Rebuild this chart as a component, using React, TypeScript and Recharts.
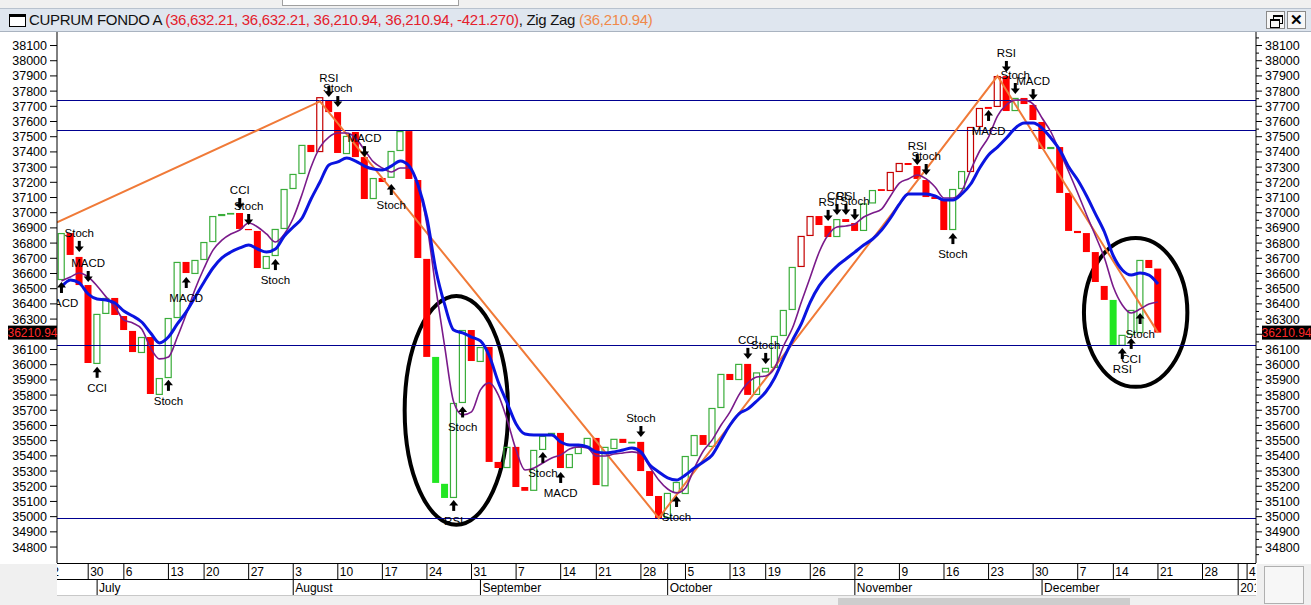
import React from "react";
import {
  Bar,
  ComposedChart,
  Line,
  ReferenceArea,
  ReferenceDot,
  ReferenceLine,
  XAxis,
  YAxis,
} from "recharts";

// daily fund values, one slot per trading day (24 Jun .. 21 Dec 2015)
const opens = [
  36557, 36866, 36709, 36524, 36005, 36334, 36439, 36320, 36222, 36077,
  36182, 35801, 35912, 36307, 36676, 36597, 36689, 36807, 36978, 36991,
  36998, 36893, 36880, 36630, 36715, 36893, 37156, 37255, 37446, 37399,
  37741, 37662, 37386, 37531, 37366, 37090, 37228, 37230, 37406, 37537,
  37215, 36696, 36051, 35216, 35123, 35748, 36228, 36018, 36117, 35360,
  35320, 35459, 35195, 35170, 35439, 35531, 35551, 35320, 35412, 35459,
  35518, 35200, 35445, 35512, 35485, 35492, 35300, 35136, 34991, 35156,
  35149, 35399, 35537, 35459, 35715, 35939, 35899, 36005, 35801, 35949,
  35979, 36189, 36360, 36643, 36847, 36978, 36913, 36840, 36958, 36932,
  36880, 37061, 37155, 37143, 37268, 37327, 37307, 37215, 37103, 37083,
  36886, 37156, 37268, 37564, 37696, 37696, 37899, 37669, 37755, 37709,
  37597, 37419, 37432, 37130, 36880, 36866, 36741, 36518, 36426, 36124,
  36196, 36208, 36689, 36632.21,
];
const closes = [
  36866, 36722, 36524, 36011, 36334, 36439, 36327, 36228, 36083, 36182,
  35807, 35912, 36307, 36676, 36603, 36689, 36807, 36978, 36991, 36998,
  36893, 36885, 36636, 36715, 36893, 37156, 37255, 37446, 37399, 37760,
  37662, 37393, 37505, 37366, 37090, 37228, 37202, 37406, 37537, 37222,
  36702, 36051, 35222, 35123, 35748, 36228, 36024, 36116, 35360, 35320,
  35459, 35195, 35170, 35439, 35531, 35551, 35320, 35412, 35459, 35518,
  35208, 35459, 35512, 35485, 35492, 35300, 35136, 34991, 35156, 35228,
  35399, 35537, 35472, 35715, 35939, 35899, 36005, 35801, 35949, 35979,
  36189, 36360, 36643, 36847, 36978, 36919, 36840, 36958, 36939, 36880,
  37061, 37149, 37143, 37268, 37327, 37314, 37222, 37103, 37090, 36886,
  37156, 37274, 37564, 37689, 37683, 37899, 37669, 37755, 37715, 37610,
  37419, 37432, 37130, 36880, 36866, 36741, 36544, 36426, 36130, 36196,
  36360, 36689, 36636, 36210.94,
];
// purple (fast) and blue (slow) averages
const fastAvg = [
  36551, 36577, 36603, 36577, 36518, 36446, 36380, 36294, 36274, 36235,
  36110, 36038, 36051, 36182, 36334, 36498, 36636, 36754, 36820, 36860,
  36886, 36932, 36906, 36860, 36807, 36860, 36965, 37123, 37301, 37432,
  37498, 37524, 37524, 37491, 37412, 37334, 37294, 37268, 37294, 37294,
  37182, 36919, 36500, 36116, 35755, 35669, 35689, 35834, 35880, 35801,
  35636, 35439, 35307, 35320, 35353, 35386, 35406, 35445, 35459, 35452,
  35399, 35399, 35412, 35419, 35426, 35412, 35327, 35241, 35182, 35156,
  35189, 35320, 35432, 35505, 35603, 35689, 35801, 35880, 35919, 35926,
  35978, 36123, 36241, 36412, 36577, 36741, 36853, 36906, 36913, 36926,
  36972, 36998, 37024, 37110, 37195, 37222, 37248, 37222, 37169, 37097,
  37097, 37143, 37281, 37406, 37498, 37636, 37709, 37741, 37741, 37715,
  37623, 37531, 37399, 37268, 37130, 36985, 36847, 36702, 36511, 36393,
  36340, 36366, 36399, 36412,
];
const slowAvg = [
  36511, 36557, 36537, 36465, 36432, 36426, 36406, 36353, 36320, 36281,
  36209, 36143, 36182, 36268, 36347, 36446, 36544, 36636, 36702, 36741,
  36768, 36787, 36761, 36741, 36761, 36847, 36906, 36965, 37090, 37202,
  37314, 37334, 37360, 37340, 37307, 37287, 37281, 37307, 37340, 37307,
  37182, 36965, 36623, 36393, 36228, 36209, 36182, 36156, 36057, 35886,
  35748, 35610, 35544, 35537, 35537, 35537, 35491, 35472, 35472, 35459,
  35426, 35419, 35426, 35439, 35452, 35426, 35340, 35294, 35255, 35241,
  35274, 35320, 35360, 35406, 35505, 35603, 35676, 35709, 35761, 35820,
  35912, 36040, 36160, 36270, 36412, 36518, 36590, 36649, 36695, 36741,
  36787, 36827, 36886, 36965, 37057, 37123, 37123, 37123, 37110, 37083,
  37083, 37123, 37189, 37294, 37380, 37432, 37491, 37557, 37590, 37590,
  37557, 37491, 37412, 37301, 37215, 37110, 36991, 36873, 36715, 36623,
  36590, 36603, 36590, 36531,
];
const overboughtDays = [29, 83, 84, 93, 94, 102, 103, 105];
const oversoldDays = [42, 43, 118];

const zigzagDays = [-0.5, 29, 67, 105, 123];
const zigzagValues = [36936, 37732, 34991, 37899, 36210.94];

const levels = [37735, 37544, 36123, 34985];

const signalDays = [0, 2, 3, 4, 12, 14, 20, 21, 24, 30, 31, 34, 37, 44, 45, 54, 56, 65, 69, 77, 79, 86, 87, 88, 89, 96, 97, 100, 104, 106, 107, 109, 119, 120, 121];
const signalNames = ["MACD", "Stoch", "MACD", "CCI", "Stoch", "MACD", "CCI", "Stoch", "Stoch", "RSI", "Stoch", "MACD", "Stoch", "RSI", "Stoch", "Stoch", "MACD", "Stoch", "Stoch", "CCI", "Stoch", "RSI", "CCI", "RSI", "Stoch", "RSI", "Stoch", "Stoch", "MACD", "RSI", "Stoch", "MACD", "RSI", "CCI", "Stoch"];
const signalBuy = [true, false, false, true, true, true, false, false, true, false, false, false, true, true, true, true, true, false, true, false, false, false, false, false, false, false, false, true, true, false, false, false, true, true, true];
const signalPrices = [36544, 36742, 36544, 35986, 35900, 36577, 37024, 36919, 36695, 37761, 37695, 37366, 37189, 35110, 35725, 35426, 35294, 35524, 35136, 36038, 36005, 36946, 36985, 36985, 36952, 37314, 37248, 36866, 37676, 37926, 37781, 37741, 36110, 36176, 36340];

const ringFrom = [38.5, 114.7];
const ringTo = [50.1, 126.3];
const ringLow = [34946, 35854];
const ringHigh = [36452, 36834];

const priceTicks = [
  34800, 34900, 35000, 35100, 35200, 35300, 35400, 35500, 35600, 35700, 35800,
  35900, 36000, 36100, 36200, 36300, 36400, 36500, 36600, 36700, 36800, 36900,
  37000, 37100, 37200, 37300, 37400, 37500, 37600, 37700, 37800, 37900, 38000, 38100,
];

const weekTicks = [-2, 3, 7, 12, 16, 21, 26, 31, 36, 41, 46, 51, 56, 60, 65, 68, 70, 75, 79, 84, 89, 94, 99, 104, 109, 114, 118, 123, 128, 132, 133];
const weekLabels = ["22", "30", "6", "13", "20", "27", "3", "10", "17", "24", "31", "7", "14", "21", "28", "", "5", "13", "19", "26", "2", "9", "16", "23", "30", "7", "14", "21", "28", "", "4"];
const monthTicks = [4, 26, 47, 68, 89, 110, 132];
const monthLabels = ["July", "August", "September", "October", "November", "December", "2016"];

const FONT = "'Liberation Sans', Arial, sans-serif";
const PLOT_LEFT = 57;
const PLOT_RIGHT = 1256;
const CANDLE_W = 7;
const lastClose = closes[closes.length - 1];

function Candle(props: any) {
  const { x, y, width, height, payload } = props;
  if (x == null || payload == null) return null;
  const left = x + width / 2 - CANDLE_W / 2;
  const top = height < 0 ? y + height : y;
  const h = Math.max(Math.abs(height), 1);
  if (oversoldDays.includes(payload.i)) {
    return <rect x={left} y={top} width={CANDLE_W} height={h} fill="#22e622" />;
  }
  if (payload.close >= payload.open) {
    const stroke = overboughtDays.includes(payload.i) ? "#c40000" : "#3aad3a";
    return (
      <rect
        x={left + 0.5}
        y={top + 0.5}
        width={CANDLE_W - 1}
        height={Math.max(h - 1, 0.5)}
        fill="none"
        stroke={stroke}
        strokeWidth={1.2}
      />
    );
  }
  return <rect x={left} y={top} width={CANDLE_W} height={h} fill="#ff0000" />;
}

function SignalMark(props: any) {
  const { cx, cy, name, buy, clipPath } = props;
  if (cx == null || cy == null) return null;
  const head = buy
    ? `${cx - 4.5},${cy + 5.5} ${cx + 4.5},${cy + 5.5} ${cx},${cy}`
    : `${cx - 4.5},${cy - 5.5} ${cx + 4.5},${cy - 5.5} ${cx},${cy}`;
  return (
    <g clipPath={clipPath}>
      <rect x={cx - 1.5} y={buy ? cy + 4 : cy - 11} width={3} height={7} fill="#000" />
      <polygon points={head} fill="#000" />
      <text x={cx} y={buy ? cy + 25 : cy - 15} textAnchor="middle" fontSize={11.5} fontFamily={FONT} fill="#000">
        {name}
      </text>
    </g>
  );
}

function Ring(props: any) {
  const { x, y, width, height } = props;
  return <ellipse cx={x + width / 2} cy={y + height / 2} rx={width / 2} ry={height / 2} fill="none" stroke="#000" strokeWidth={4} />;
}

function PriceTag({ x, y, left }: { x: number; y: number; left: boolean }) {
  const rx = left ? x - 49 : x + 6;
  return (
    <g>
      <rect x={rx} y={y - 7} width={49} height={14} fill="#000" />
      <text x={rx + 24.5} y={y + 4.5} textAnchor="middle" fontSize={12} fontFamily={FONT} fill="#ff2a2a">
        {lastClose.toFixed(2)}
      </text>
    </g>
  );
}

function LeftTick(props: any) {
  const { x, y, payload } = props;
  if (payload.value === lastClose) return <PriceTag x={x} y={y} left />;
  return (
    <g>
      <line x1={x - 7} x2={x} y1={y} y2={y} stroke="#000" />
      <text x={x - 10} y={y + 4.5} textAnchor="end" fontSize={12.5} fontFamily={FONT} fill="#000">
        {payload.value}
      </text>
    </g>
  );
}

function RightTick(props: any) {
  const { x, y, payload } = props;
  if (payload.value === lastClose) return <PriceTag x={x} y={y} left={false} />;
  const major = priceTicks.includes(payload.value);
  return (
    <g>
      <line x1={x} x2={x + (major ? 6 : 3)} y1={y} y2={y} stroke="#000" />
      {major && (
        <text x={x + 9} y={y + 4.5} fontSize={12.5} fontFamily={FONT} fill="#000">
          {payload.value}
        </text>
      )}
    </g>
  );
}

function DateTick(props: any) {
  const { x, y, payload } = props;
  const v = payload.value;
  const w = weekTicks.indexOf(v);
  const m = monthTicks.indexOf(v);
  const id = `date-clip-${String(v).replace(/[^0-9]/g, "_")}`;
  return (
    <g>
      <defs>
        <clipPath id={id}>
          <rect x={PLOT_LEFT} y={y} width={PLOT_RIGHT - PLOT_LEFT} height={34} />
        </clipPath>
      </defs>
      <g clipPath={`url(#${id})`} fontFamily={FONT} fontSize={12} fill="#000">
        {w >= 0 && (
          <>
            <line x1={x} x2={x} y1={y} y2={y + 16} stroke="#000" />
            <text x={x + 2} y={y + 13}>{weekLabels[w]}</text>
          </>
        )}
        {m >= 0 && (
          <>
            <line x1={x} x2={x} y1={y + 16} y2={y + 32} stroke="#000" />
            <text x={x + 2} y={y + 29}>{monthLabels[m]}</text>
          </>
        )}
      </g>
    </g>
  );
}

const fmt = (v: number, d: number) =>
  v.toLocaleString("en-US", { minimumFractionDigits: d, maximumFractionDigits: d });

export default function App() {
  const candles = closes.map((close, i) => ({
    i,
    open: opens[i],
    close,
    body: [Math.min(opens[i], close), Math.max(opens[i], close)],
    fast: fastAvg[i],
    slow: slowAvg[i],
  }));
  const zigzag = zigzagDays.map((i, k) => ({ i, v: zigzagValues[k] }));
  const dateTicks = Array.from(new Set([...weekTicks, ...monthTicks])).sort((a, b) => a - b);
  const rightTicks = [...priceTicks.flatMap((v) => [v - 50, v]), 38150, lastClose];
  const last = closes.length - 1;
  const o = opens[last];
  const c = closes[last];
  const ohlc = `(${fmt(o, 2)}, ${fmt(Math.max(o, c), 2)}, ${fmt(Math.min(o, c), 2)}, ${fmt(c, 2)}, ${(c - o).toFixed(3)})`;

  return (
    <div style={{ position: "fixed", left: 0, top: 0, width: 1311, height: 605, background: "#f0f0f0", overflow: "hidden", fontFamily: FONT }}>
      {/* toolbar remnants */}
      <div style={{ position: "absolute", left: 0, top: 0, width: 1311, height: 8, background: "#f0f0f0" }} />
      <div style={{ position: "absolute", left: 282, top: 0, width: 175, height: 5, background: "#fff", border: "1px solid #a0a0a0", borderTop: "none" }} />
      {/* title bar */}
      <div style={{ position: "absolute", left: 0, top: 8, width: 1311, height: 24, background: "#dfe6ef", borderTop: "1px solid #b8c2ce", borderBottom: "1px solid #a9b3c0", boxSizing: "border-box" }}>
        <div style={{ position: "absolute", left: 9, top: 5, width: 17, height: 13, border: "1px solid #000", borderTopWidth: 3, background: "#fff", boxSizing: "border-box" }} />
        <div style={{ position: "absolute", left: 29, top: 2, fontSize: 15, letterSpacing: -0.3, whiteSpace: "nowrap", color: "#111" }}>
          <span>CUPRUM FONDO A </span>
          <span style={{ color: "#e4202c" }}>{ohlc}</span>
          <span>, Zig Zag </span>
          <span style={{ color: "#f0894a" }}>({fmt(zigzagValues[zigzagValues.length - 1], 2)})</span>
        </div>
        <div style={{ position: "absolute", left: 1266, top: 2, width: 19, height: 18, border: "1px solid #8a8a8a", background: "#f7f7f7", boxSizing: "border-box" }}>
          <div style={{ position: "absolute", left: 6, top: 3, width: 8, height: 6, border: "1px solid #000", borderTopWidth: 2 }} />
          <div style={{ position: "absolute", left: 3, top: 7, width: 8, height: 6, border: "1px solid #000", borderTopWidth: 2, background: "#f7f7f7" }} />
        </div>
        <div style={{ position: "absolute", left: 1287, top: 2, width: 19, height: 18, border: "1px solid #8a8a8a", background: "#f7f7f7", boxSizing: "border-box", fontSize: 15, fontWeight: 700, textAlign: "center", lineHeight: "16px" }}>
          ✕
        </div>
      </div>
      {/* chart panel background */}
      <div style={{ position: "absolute", left: 0, top: 32, width: 1311, height: 563, background: "#fff" }} />
      <div style={{ position: "absolute", left: 0, top: 564, width: PLOT_LEFT, height: 41, background: "#f0f0f0" }} />
      <div style={{ position: "absolute", left: PLOT_RIGHT + 1, top: 564, width: 55, height: 41, background: "#f0f0f0" }} />
      <div style={{ position: "absolute", left: 1264, top: 566, width: 38, height: 36, background: "#f7f7f7", border: "1px solid #b0b0b0" }} />
      <div style={{ position: "absolute", left: PLOT_LEFT, top: 563, width: PLOT_RIGHT - PLOT_LEFT, height: 1, background: "#000" }} />
      <div style={{ position: "absolute", left: PLOT_LEFT, top: 579, width: PLOT_RIGHT - PLOT_LEFT, height: 1, background: "#000" }} />
      <div style={{ position: "absolute", left: PLOT_LEFT, top: 595, width: PLOT_RIGHT - PLOT_LEFT, height: 1, background: "#c8c8c8" }} />
      <div style={{ position: "absolute", left: 838, top: 598, width: 292, height: 7, background: "#cdcdcd" }} />

      <div style={{ position: "absolute", left: 0, top: 32 }}>
        <ComposedChart width={1311} height={563} data={candles} margin={{ top: 0, right: 0, bottom: 0, left: 0 }}>
          <XAxis
            dataKey="i"
            type="number"
            domain={[-0.5, 134]}
            allowDataOverflow
            ticks={dateTicks}
            interval={0}
            tickSize={0}
            tickMargin={0}
            height={32}
            axisLine={false}
            tickLine={false}
            tick={<DateTick />}
          />
          <YAxis
            yAxisId="l"
            orientation="left"
            type="number"
            width={PLOT_LEFT}
            domain={[34695, 38189]}
            allowDataOverflow
            ticks={[...priceTicks, lastClose]}
            interval={0}
            tickSize={0}
            tickMargin={0}
            tickLine={false}
            axisLine={{ stroke: "#000" }}
            tick={<LeftTick />}
          />
          <YAxis
            yAxisId="r"
            orientation="right"
            type="number"
            width={55}
            domain={[34695, 38189]}
            allowDataOverflow
            ticks={rightTicks}
            interval={0}
            tickSize={0}
            tickMargin={0}
            tickLine={false}
            axisLine={{ stroke: "#000" }}
            tick={<RightTick />}
          />
          {levels.map((lv) => (
            <ReferenceLine key={lv} yAxisId="l" y={lv} stroke="#000090" strokeWidth={1} shapeRendering="crispEdges" />
          ))}
          <Bar yAxisId="l" dataKey="body" barSize={CANDLE_W} shape={<Candle />} isAnimationActive={false} />
          <Line yAxisId="l" data={zigzag} dataKey="v" type="linear" stroke="#f07a38" strokeWidth={2} dot={false} isAnimationActive={false} />
          <Line yAxisId="l" dataKey="fast" type="monotone" stroke="#7a1a8a" strokeWidth={1.6} dot={false} isAnimationActive={false} />
          <Line yAxisId="l" dataKey="slow" type="monotone" stroke="#0a14e0" strokeWidth={3} dot={false} isAnimationActive={false} />
          {ringFrom.map((x1, k) => (
            <ReferenceArea key={k} yAxisId="l" x1={x1} x2={ringTo[k]} y1={ringLow[k]} y2={ringHigh[k]} ifOverflow="visible" shape={<Ring />} />
          ))}
          {signalDays.map((d, k) => (
            <ReferenceDot
              key={k}
              yAxisId="l"
              x={d}
              y={signalPrices[k]}
              r={0}
              ifOverflow="hidden"
              shape={(p: any) => <SignalMark {...p} name={signalNames[k]} buy={signalBuy[k]} />}
            />
          ))}
        </ComposedChart>
      </div>
    </div>
  );
}
